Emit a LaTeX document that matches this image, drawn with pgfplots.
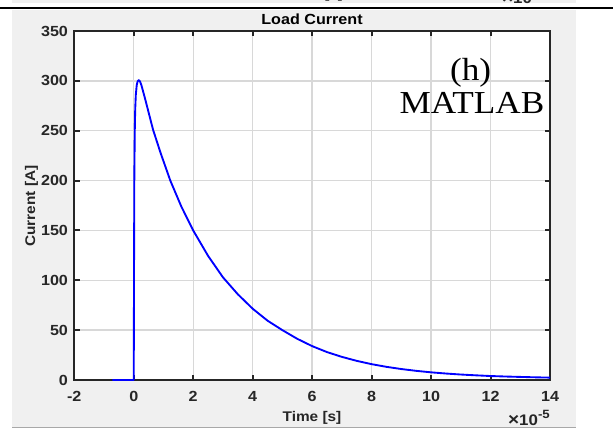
\documentclass[border=0pt]{standalone}
\usepackage{fontspec}
\setmainfont{Liberation Sans}[FakeStretch=1.1]
\newfontfamily\seriffont{Liberation Serif}[FakeStretch=1.1]
\usepackage{pgfplots}
\pgfplotsset{compat=1.18}
\definecolor{figgray}{HTML}{F0F0F0}
\definecolor{axgray}{HTML}{262626}
\definecolor{gridgray}{HTML}{D8D8D8}
\definecolor{botline}{HTML}{A8A8A8}
\newcommand{\expo}{{\fontsize{13}{14}\selectfont ×}10\raisebox{0.45em}{\fontsize{9}{10}\selectfont -5}}
\begin{document}
\begin{tikzpicture}
\useasboundingbox (0,0) rectangle (459.75pt,-321.75pt);
% figure backgrounds
\fill[figgray] (9pt,-7.2pt) rectangle (432pt,-320.25pt);
\fill[figgray] (9pt,0pt) rectangle (432pt,-2.6pt);
\begin{scope}
\clip (9pt,0pt) rectangle (432pt,-2.6pt);
\node[anchor=base, inner sep=0pt, font=\bfseries\fontsize{10}{12}\selectfont, text=axgray] at (236pt,1.1pt) {Time [s]};
\node[anchor=base east, inner sep=0pt, font=\bfseries\fontsize{11.5}{13}\selectfont, text=axgray] at (408pt,-2.3pt) {\expo};
\end{scope}
\draw[black, line width=1.2pt] (0pt,-6pt) -- (459.75pt,-6pt);
\draw[botline, line width=0.8pt] (9pt,-320.4pt) -- (432pt,-320.4pt);

\begin{axis}[
  at={(55.7pt,-285pt)}, anchor=south west,
  scale only axis, width=356.8pt, height=261.75pt,
  xmin=-2, xmax=14, ymin=0, ymax=350,
  xtick={-2,0,2,4,6,8,10,12,14},
  xticklabels={-2,0,2,4,6,8,10,12,14},
  ytick={0,50,100,150,200,250,300,350},
  yticklabels={0,50,100,150,200,250,300,350},
  grid=major,
  major grid style={gridgray, line width=1pt},
  axis line style={axgray, line width=1.5pt},
  tick style={axgray, line width=1.5pt},
  major tick length=4pt,
  tick align=inside,
  ticklabel style={font=\bfseries\fontsize{11}{12}\selectfont, text=axgray},
  xticklabel style={yshift=-5pt},
  yticklabel style={xshift=-1.2pt},
  axis background/.style={fill=white},
  clip=false,
]
\addplot[color=blue, line width=1.4pt, line join=round] table {
x y
-0.72 0
0 0
0.01 110
0.02 205
0.035 250
0.05 272
0.07 286
0.1 295.5
0.13 299.5
0.17 300.7
0.21 299.5
0.26 295.5
0.4 280
0.65 251
0.9 228
1.23 200
1.6 174
2.0 150
2.5 124.5
3.0 103
3.5 86
4.0 71.5
4.5 59.5
5.0 50
5.5 41.3
6.0 34
6.5 28
7.0 23.2
7.5 19.2
8.0 15.9
8.5 13.2
9.0 11
9.5 9.2
10.0 7.7
10.5 6.5
11.0 5.5
11.5 4.7
12.0 4.0
12.5 3.5
13.0 3.1
13.5 2.7
14.0 2.4
};
\end{axis}

\node[anchor=base, inner sep=0pt, font=\bfseries\fontsize{11}{13}\selectfont] at (234pt,-18.4pt) {Load Current};
\node[anchor=base, inner sep=0pt, font=\bfseries\fontsize{10.5}{12}\selectfont, text=axgray] at (234pt,-315.75pt) {Time [s]};
\node[anchor=base east, inner sep=0pt, font=\bfseries\fontsize{11.5}{13}\selectfont, text=axgray] at (412.5pt,-319.1pt) {\expo};
\node[rotate=90, inner sep=0pt, font=\bfseries\fontsize{10.5}{12}\selectfont, text=axgray] at (23.6pt,-154.5pt) {Current [A]};
\node[anchor=base, inner sep=0pt, font=\seriffont\fontsize{24}{28}\selectfont] at (353pt,-60pt) {(h)};
\node[anchor=base, inner sep=0pt, font=\seriffont\fontsize{24}{28}\selectfont] at (354pt,-84.75pt) {MATLAB};
\end{tikzpicture}
\end{document}
